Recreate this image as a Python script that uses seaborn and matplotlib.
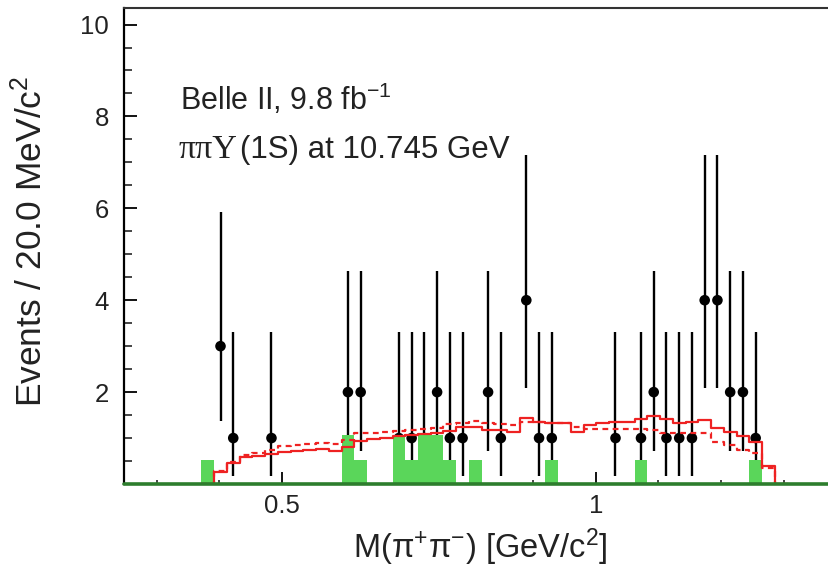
import matplotlib
matplotlib.use("Agg")
import matplotlib.pyplot as plt
import numpy as np
import pandas as pd
import seaborn as sns
from matplotlib.ticker import FuncFormatter, MultipleLocator

# binning (axis starts at the first edge)
bin_lo = 0.2492
bin_width = 0.02032
n_bins = 55

# observed events per bin
data_counts = [
    0, 0, 0, 0, 0, 0, 0,
    3, 1, 0, 0, 1, 0, 0,
    0, 0, 0, 2, 2, 0, 0,
    1, 1, 1, 2, 1, 1, 0,
    2, 1, 0, 4, 1, 1, 0,
    0, 0, 0, 1, 0, 1, 2,
    1, 1, 1, 4, 4, 2, 2,
    1, 0, 0, 0, 0, 0,
]

# 68% Poisson intervals for n = 1..4
poisson_low = [0.173, 0.708, 1.367, 2.086]
poisson_high = [3.300, 4.638, 5.918, 7.163]

# green (sideband) histogram
green_counts = [
    0, 0, 0, 0, 0, 0, 0.53,
    0, 0, 0, 0, 0, 0, 0,
    0, 0, 0, 1.06, 0.53, 0, 0,
    1.06, 0.53, 1.06, 1.06, 0.53, 0, 0.53,
    0, 0, 0, 0, 0, 0.53, 0,
    0, 0, 0, 0, 0, 0.53, 0,
    0, 0, 0, 0, 0, 0, 0,
    0.53, 0, 0, 0, 0, 0,
]

# red fit curves, bins 6..51
fit_solid = [
    0, 0.27, 0.45, 0.58, 0.62, 0.66, 0.70, 0.72, 0.75, 0.77, 0.72,
    0.80, 0.93, 0.97, 1.01, 1.04, 1.06, 1.09, 1.10, 1.16, 1.25,
    1.25, 1.17, 1.17, 1.14, 1.43, 1.36, 1.33, 1.33, 1.14, 1.28,
    1.32, 1.35, 1.35, 1.41, 1.48, 1.41, 1.33, 1.35, 1.39, 1.21,
    1.14, 1.04, 0.92, 0.39, 0,
]
fit_dashed = [
    0, 0.28, 0.47, 0.63, 0.68, 0.75, 0.82, 0.85, 0.87, 0.89, 0.86,
    0.95, 1.10, 1.12, 1.13, 1.15, 1.18, 1.20, 1.22, 1.30, 1.32,
    1.38, 1.33, 1.30, 1.28, 1.35, 1.34, 1.33, 1.32, 1.25, 1.20,
    1.19, 1.19, 1.19, 1.19, 1.17, 1.10, 1.10, 1.10, 1.10, 0.92,
    0.85, 0.74, 0.68, 0.34, 0,
]
fit_first_bin = 6

edges = bin_lo + bin_width * np.arange(n_bins + 1)
centers = 0.5 * (edges[:-1] + edges[1:])

sns.set_theme(style="ticks")
plt.rcParams["font.family"] = ["Liberation Sans", "DejaVu Sans"]
plt.rcParams["mathtext.fontset"] = "custom"
plt.rcParams["mathtext.rm"] = "Liberation Sans"
plt.rcParams["mathtext.it"] = "Liberation Sans:italic"

W, H = 829, 572
fig = plt.figure(figsize=(W / 100, H / 100), dpi=100)
fig.patch.set_facecolor("white")
ax = fig.add_axes([124.5 / W, 1 - 484 / H, 1 - 124.5 / W, (484 - 8) / H])
ax.set_facecolor("white")

# data points with Poisson error bars
counts = np.array(data_counts)
mask = counts > 0
points = pd.DataFrame({"mass": centers[mask], "events": counts[mask]})
lo = np.array(poisson_low)[points["events"] - 1]
hi = np.array(poisson_high)[points["events"] - 1]
ax.vlines(points["mass"], lo, hi, color="black", lw=1.7, zorder=2)
sns.scatterplot(data=points, x="mass", y="events", color="black", s=58,
                edgecolor="none", zorder=3, ax=ax)

# green histogram
green = pd.DataFrame({"mass": centers, "w": green_counts})
sns.histplot(data=green, x="mass", weights="w", bins=edges.tolist(), element="bars",
             color="#5ad65a", alpha=1, linewidth=0, zorder=4, ax=ax)

# red fit curves
fit_edges = edges[fit_first_bin:fit_first_bin + len(fit_solid) + 1]
fit = pd.DataFrame({
    "mass": 0.5 * (fit_edges[:-1] + fit_edges[1:]),
    "solid": fit_solid,
    "dashed": fit_dashed,
})
sns.histplot(data=fit, x="mass", weights="dashed", bins=fit_edges.tolist(),
             element="step", fill=False, color="#ee2222", linewidth=1.6,
             linestyle=(0, (2.6, 2.0)), zorder=5, ax=ax)
sns.histplot(data=fit, x="mass", weights="solid", bins=fit_edges.tolist(),
             element="step", fill=False, color="#ee2222", linewidth=1.6,
             zorder=5, ax=ax)

ax.axhline(0, color="#2d7d2d", lw=2.6, zorder=6, clip_on=False)

ax.set_xlim(0.2485, 1.372)
ax.set_ylim(0, 10.36)
ax.set_xlabel("")
ax.set_ylabel("")

ax.xaxis.set_major_locator(MultipleLocator(0.5))
ax.xaxis.set_minor_locator(MultipleLocator(0.1))
ax.yaxis.set_major_locator(MultipleLocator(2))
ax.yaxis.set_minor_locator(MultipleLocator(0.5))
ax.xaxis.set_major_formatter(FuncFormatter(lambda v, p: f"{v:g}"))
ax.yaxis.set_major_formatter(FuncFormatter(lambda v, p: "" if v == 0 else f"{v:g}"))

ax.tick_params(axis="x", which="major", direction="in", length=8.6, width=1.3,
               pad=7, labelsize=18.5, colors="black")
ax.tick_params(axis="x", which="minor", direction="in", length=3, width=1.2)
ax.tick_params(axis="y", which="major", direction="in", length=9.4, width=1.3,
               pad=11, labelsize=18.5, colors="black")
ax.tick_params(axis="y", which="minor", direction="in", length=5.8, width=1.2)
ax.tick_params(top=False, right=False, which="both")
for lab in ax.get_xticklabels() + ax.get_yticklabels():
    lab.set_color("#222222")

ax.spines["right"].set_visible(False)
ax.spines["left"].set_linewidth(1.6)
ax.spines["left"].set_color("black")
ax.spines["top"].set_linewidth(1.5)
ax.spines["top"].set_color("#333333")
ax.spines["bottom"].set_visible(False)

# labels
fig.text(31 / W, 1 - 76 / H, r"Events / 20.0 MeV/c$\mathregular{^2}$",
         rotation=90, ha="center", va="top", fontsize=25.5, color="#222222")
fig.text(607 / W, 1 - 558 / H,
         r"M(π$\mathregular{^{+}}$π$\mathregular{^{-}}$) [GeV/c$\mathregular{^{2}}$]",
         ha="right", va="baseline", fontsize=23.5, color="#222222")

fig.text(180.5 / W, 1 - 110 / H, r"Belle II, 9.8 fb$\mathregular{^{-1}}$",
         ha="left", va="baseline", fontsize=22, color="#222222")
greek = fig.text(178.5 / W, 1 - 165 / H, "ππΥ", family="Liberation Serif",
                 ha="left", va="bottom", fontsize=24.5, color="#222222")
ax.annotate("(1S) at 10.745 GeV", xy=(1, 0), xycoords=greek,
            xytext=(2, 0), textcoords="offset points",
            ha="left", va="bottom", fontsize=22.5, color="#222222",
            annotation_clip=False)

fig.savefig("out.png", dpi=100, facecolor="white")
